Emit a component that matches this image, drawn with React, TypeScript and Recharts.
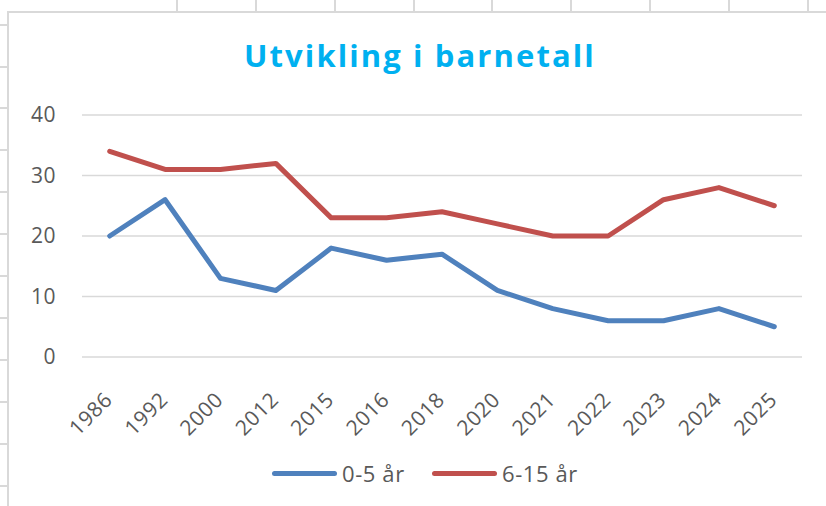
import React from "react";
import { LineChart, Line, XAxis, YAxis, CartesianGrid } from "recharts";

const years = ["1986", "1992", "2000", "2012", "2015", "2016", "2018", "2020", "2021", "2022", "2023", "2024", "2025"];
const age0to5 = [20, 26, 13, 11, 18, 16, 17, 11, 8, 6, 6, 8, 5];
const age6to15 = [34, 31, 31, 32, 23, 23, 24, 22, 20, 20, 26, 28, 25];
const yTicks = [0, 10, 20, 30, 40];
const seriesNames = ["0-5 år", "6-15 år"];
const seriesColors = ["#4F81BD", "#C0504D"];

const data = years.map((y, i) => ({ year: y, a: age0to5[i], b: age6to15[i] }));

const FONT = "'Open Sans', Lato, sans-serif";
const TEXT = "#595959";
const SHEET = "#d9d9d9";

const sheetCols = [177, 256, 335, 414, 492, 571, 650, 729, 808];
const sheetRows = [25, 67, 108, 150, 192, 234, 276, 318, 360, 402, 444, 486];

const XTick = (props: any) => {
  const { x, y, payload } = props;
  const tx = x + 4;
  const ty = y + 36;
  return (
    <text
      x={tx}
      y={ty}
      transform={`rotate(-45, ${tx}, ${ty})`}
      textAnchor="end"
      fill={TEXT}
      fontSize={21}
      letterSpacing={0.6}
      fontFamily={FONT}
    >
      {payload.value}
    </text>
  );
};

export default function App() {
  return (
    <div style={{ position: "fixed", left: 0, top: 0, width: 826, height: 506, background: "#fff", overflow: "hidden" }}>
      {sheetCols.map((x) => (
        <div key={"c" + x} style={{ position: "absolute", left: x - 1, top: 0, width: 2, height: 12, background: SHEET }} />
      ))}
      {sheetRows.map((y) => (
        <div key={"r" + y} style={{ position: "absolute", left: 0, top: y - 1, width: 8, height: 2, background: SHEET }} />
      ))}
      <div
        style={{
          position: "absolute",
          left: 7,
          top: 11,
          width: 830,
          height: 510,
          borderLeft: `2px solid ${SHEET}`,
          borderTop: `2px solid ${SHEET}`,
          boxSizing: "border-box",
        }}
      />
      <div
        style={{
          position: "absolute",
          left: 244,
          top: 34,
          whiteSpace: "nowrap",
          fontFamily: FONT,
          fontWeight: 700,
          fontSize: 31,
          letterSpacing: 2.1,
          lineHeight: "42px",
          color: "#00B0F0",
        }}
      >
        Utvikling i barnetall
      </div>
      <div style={{ position: "absolute", left: 0, top: 0 }}>
        <LineChart width={826} height={506} data={data} margin={{ top: 115, right: 24, left: 22, bottom: 89 }}>
          <CartesianGrid vertical={false} stroke={SHEET} strokeWidth={1.5} />
          <XAxis
            dataKey="year"
            axisLine={false}
            tickLine={false}
            tick={<XTick />}
            interval={0}
            height={60}
            padding={{ left: 27.7, right: 27.7 }}
          />
          <YAxis
            domain={[0, 40]}
            ticks={yTicks}
            axisLine={false}
            tickLine={false}
            tickSize={0}
            tickMargin={26}
            width={60}
            tick={{ fill: TEXT, fontSize: 21, fontFamily: FONT, letterSpacing: 0.5 }}
          />
          <Line type="linear" dataKey="a" name={seriesNames[0]} stroke={seriesColors[0]} strokeWidth={5} strokeLinecap="round" strokeLinejoin="round" dot={false} isAnimationActive={false} />
          <Line type="linear" dataKey="b" name={seriesNames[1]} stroke={seriesColors[1]} strokeWidth={5} strokeLinecap="round" strokeLinejoin="round" dot={false} isAnimationActive={false} />
        </LineChart>
      </div>
      {seriesNames.map((n, i) => (
        <div
          key={n}
          style={{
            position: "absolute",
            left: i === 0 ? 272 : 432,
            top: 458,
            height: 30,
            display: "flex",
            alignItems: "center",
            fontFamily: FONT,
            fontSize: 22,
            letterSpacing: 0.6,
            color: TEXT,
            whiteSpace: "nowrap",
          }}
        >
          <div style={{ width: 65, height: 5, borderRadius: 3, background: seriesColors[i], marginRight: 5 }} />
          <span>{n}</span>
        </div>
      ))}
    </div>
  );
}
